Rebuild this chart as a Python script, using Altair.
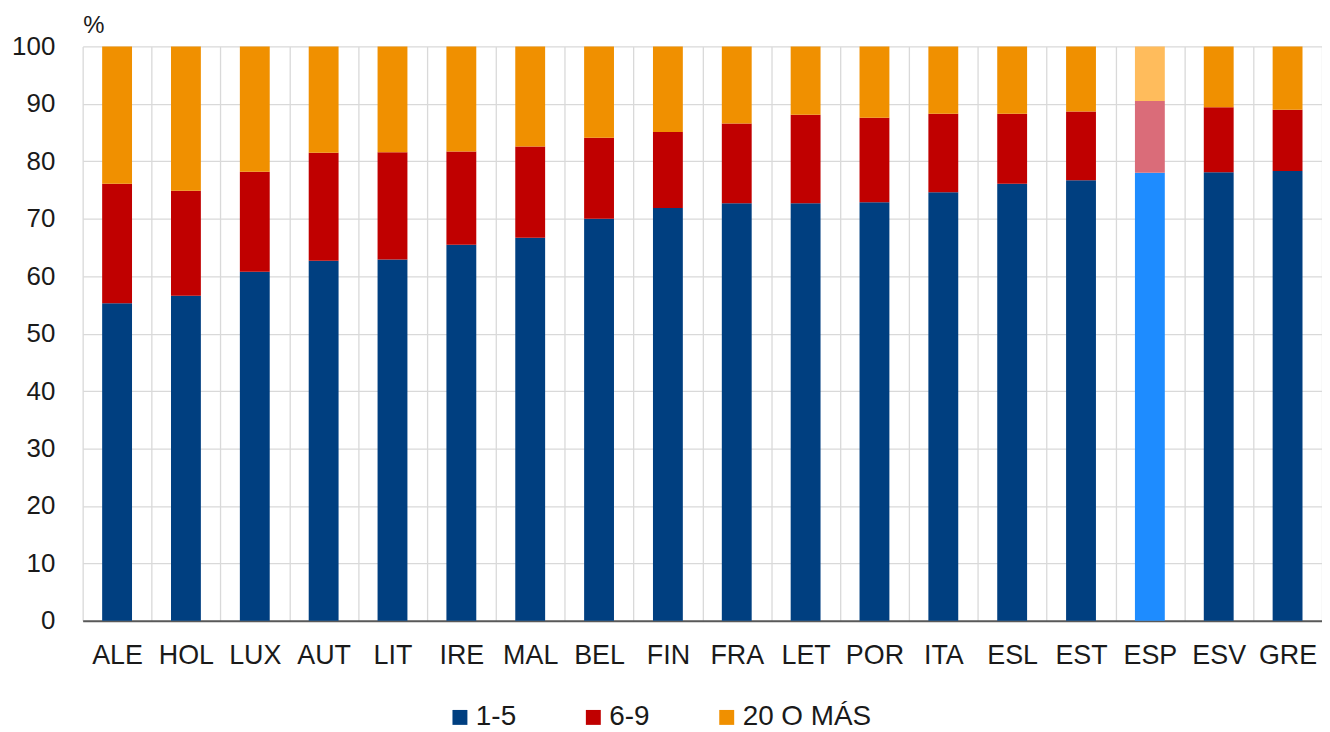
import altair as alt
import pandas as pd

countries = ["ALE", "HOL", "LUX", "AUT", "LIT", "IRE", "MAL", "BEL", "FIN",
             "FRA", "LET", "POR", "ITA", "ESL", "EST", "ESP", "ESV", "GRE"]
s_1_5 = [55.3, 56.6, 60.8, 62.7, 62.9, 65.5, 66.7, 70.0, 71.9,
         72.7, 72.7, 72.9, 74.6, 76.1, 76.7, 78.0, 78.1, 78.3]
s_6_9 = [20.8, 18.3, 17.4, 18.8, 18.7, 16.2, 15.9, 14.1, 13.2,
         13.9, 15.4, 14.7, 13.7, 12.2, 12.0, 12.5, 11.3, 10.7]
s_20 = [23.9, 25.1, 21.8, 18.5, 18.4, 18.3, 17.4, 15.9, 14.9,
        13.4, 11.9, 12.4, 11.7, 11.7, 11.3, 9.5, 10.6, 11.0]
series = ["1-5", "6-9", "20 O MÁS"]
highlight = "ESP"

rows = []
for i, c in enumerate(countries):
    for k, (name, vals) in enumerate(zip(series, [s_1_5, s_6_9, s_20])):
        key = name + ("_ESP" if c == highlight else "")
        rows.append({"pais": c, "serie": name, "clave": key, "ord": k, "valor": vals[i]})
df = pd.DataFrame(rows)

dom = ["1-5", "6-9", "20 O MÁS", "1-5_ESP", "6-9_ESP", "20 O MÁS_ESP"]
rng = ["#003F80", "#C00000", "#F09000", "#1E8CFF", "#DA6C79", "#FFBC5C"]

FONT = "Liberation Sans"

chart = alt.Chart(df).mark_bar(size=30).encode(
    x=alt.X("pais:N", sort=countries, title=None,
            scale=alt.Scale(paddingInner=0, paddingOuter=0),
            axis=alt.Axis(labelAngle=0, labelFontSize=27, labelFont=FONT, labelColor="#1a1a1a",
                          labelPadding=22, ticks=False, tickSize=0, grid=True, tickBand="extent",
                          gridColor="#d9d9d9", gridWidth=1.3, domainColor="#595959", domainWidth=2)),
    y=alt.Y("valor:Q", stack="zero", scale=alt.Scale(domain=[0, 100], nice=False),
            axis=alt.Axis(values=list(range(0, 101, 10)), title="%", titleAngle=0, titleX=0, titleY=-9,
                          titleAlign="left", titleBaseline="bottom", titleFontSize=24,
                          titleFont=FONT, titleFontWeight="normal", titleColor="#1a1a1a",
                          labelFontSize=26, labelFont=FONT, labelColor="#1a1a1a",
                          labelPadding=28, ticks=False, tickSize=0, domain=False,
                          gridColor="#d9d9d9", gridWidth=1.3)),
    color=alt.Color("clave:N", scale=alt.Scale(domain=dom, range=rng),
                    legend=alt.Legend(values=series, title=None, orient="none", direction="horizontal",
                                      legendX=365, legendY=660, symbolType="square", symbolSize=225,
                                      symbolStrokeWidth=0, labelFontSize=28, labelFont=FONT,
                                      labelColor="#1a1a1a", labelOffset=2, columnPadding=63, padding=0)),
    order=alt.Order("ord:Q"),
).properties(
    width=1245, height=577,
    padding={"left": 75, "top": 37, "right": 0, "bottom": 110},
    autosize=alt.AutoSizeParams(type="none"),
).configure_view(stroke=None)

chart.save("out.html", embed_options={"renderer": "svg", "actions": False})
